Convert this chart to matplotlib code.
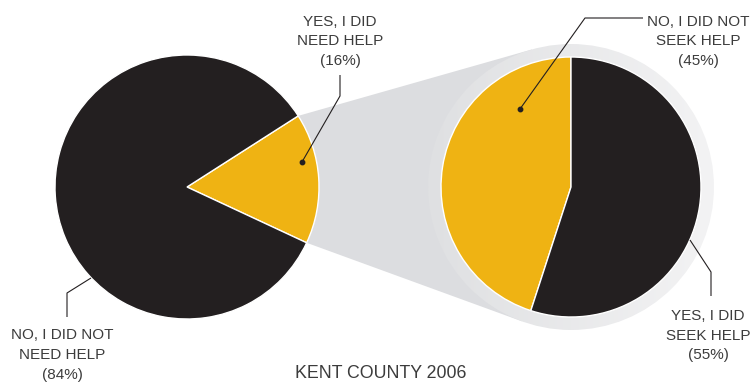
import numpy as np
import matplotlib
matplotlib.use("Agg")
import matplotlib.pyplot as plt
from matplotlib.patches import Polygon, Circle
from matplotlib.colors import LinearSegmentedColormap

# Survey answers, Kent County 2006
need_labels = ["YES, I DID\nNEED HELP", "NO, I DID NOT\nNEED HELP"]
need_values = [16, 84]
seek_labels = ["NO, I DID NOT\nSEEK HELP", "YES, I DID\nSEEK HELP"]
seek_values = [45, 55]
title = "KENT COUNTY 2006"

BLACK = "#231f20"
YELLOW = "#efb313"
TEXT = "#3c3c3c"

W, H = 752, 383
fig = plt.figure(figsize=(W / 100, H / 100), dpi=100)
ax = fig.add_axes([0, 0, 1, 1])

c1, r1 = np.array([187.0, 196.0]), 132.0
c2, r2 = np.array([571.0, 196.0]), 130.0
ring_r = 143.0

# the "yes" slice of the left pie starts slightly below the horizontal
start1 = -25.0
span1 = need_values[0] / sum(need_values) * 360
a0, a1 = np.radians(start1), np.radians(start1 + span1)
p_top = c1 + r1 * np.array([np.cos(a1), np.sin(a1)])
p_bot = c1 + r1 * np.array([np.cos(a0), np.sin(a0)])


def tangent(p, c, r, upper):
    d = c - p
    dist = np.hypot(*d)
    base = np.arctan2(d[1], d[0])
    off = np.arcsin(r / dist)
    ang = base + off if upper else base - off
    L = np.sqrt(dist ** 2 - r ** 2)
    return p + L * np.array([np.cos(ang), np.sin(ang)])


t_top = tangent(p_top, c2, ring_r, True)
t_bot = tangent(p_bot, c2, ring_r, False)

grad = np.linspace(0, 1, 256).reshape(1, -1)

# connecting band between the two pies
band = Polygon([c1, p_top, t_top, c2, t_bot, p_bot], closed=True,
               facecolor="#dcdde0", edgecolor="none", zorder=1)
ax.add_patch(band)

# soft ring around the right pie
ring = Circle(c2, ring_r, facecolor="none", edgecolor="none")
ax.add_patch(ring)
ring_cmap = LinearSegmentedColormap.from_list("ring", ["#dfe0e2", "#f3f3f4"])
im2 = ax.imshow(grad, cmap=ring_cmap,
                extent=(c2[0] - ring_r, c2[0] + ring_r, c2[1] - ring_r, c2[1] + ring_r),
                aspect="auto", zorder=2)
im2.set_clip_path(ring)

wp = dict(edgecolor="white", linewidth=1.0)
w1, _ = ax.pie(need_values, colors=[YELLOW, BLACK], startangle=start1,
               center=tuple(c1), radius=r1, wedgeprops=wp, frame=True)
w2, _ = ax.pie(seek_values, colors=[YELLOW, BLACK], startangle=90,
               center=tuple(c2), radius=r2, wedgeprops=wp, frame=True)
for w in w1 + w2:
    w.set_zorder(3)
ax.set_xlim(0, W)
ax.set_ylim(0, H)
ax.set_aspect("auto")
ax.axis("off")


def pct(v, tot):
    return f"({round(100 * v / tot)}%)"


def Y(y):
    return H - y


def label(x, y, txt, spacing=1.5):
    ax.text(x, Y(y), txt, ha="center", va="center", fontsize=11, color=TEXT,
            family="Liberation Sans", linespacing=spacing, zorder=6)


def leader(pts, dot=True):
    xs = [p[0] for p in pts]
    ys = [Y(p[1]) for p in pts]
    ax.plot(xs, ys, color=BLACK, lw=0.8, zorder=5, solid_capstyle="butt")
    if dot:
        ax.plot(xs[-1], ys[-1], "o", color=BLACK, ms=3.2, zorder=5)


tot_n, tot_s = sum(need_values), sum(seek_values)

# left pie labels
label(340, 41, need_labels[0] + "\n" + pct(need_values[0], tot_n))
leader([(340, 75), (340, 96), (302, 162)])
label(62, 355, need_labels[1] + "\n" + pct(need_values[1], tot_n), spacing=1.58)
leader([(67, 317), (67, 293), (91, 278)], dot=False)

# right pie labels
label(698, 41, seek_labels[0] + "\n" + pct(seek_values[0], tot_s))
leader([(643, 18), (585, 18), (520, 109)])
label(708, 336, seek_labels[1] + "\n" + pct(seek_values[1], tot_s))
leader([(711, 296), (711, 272), (690, 240)], dot=False)

ax.text(381, Y(374), title, ha="center", va="center", fontsize=12.8,
        color=TEXT, family="Liberation Sans", zorder=6)

fig.savefig("out.png", dpi=100, facecolor="white")
